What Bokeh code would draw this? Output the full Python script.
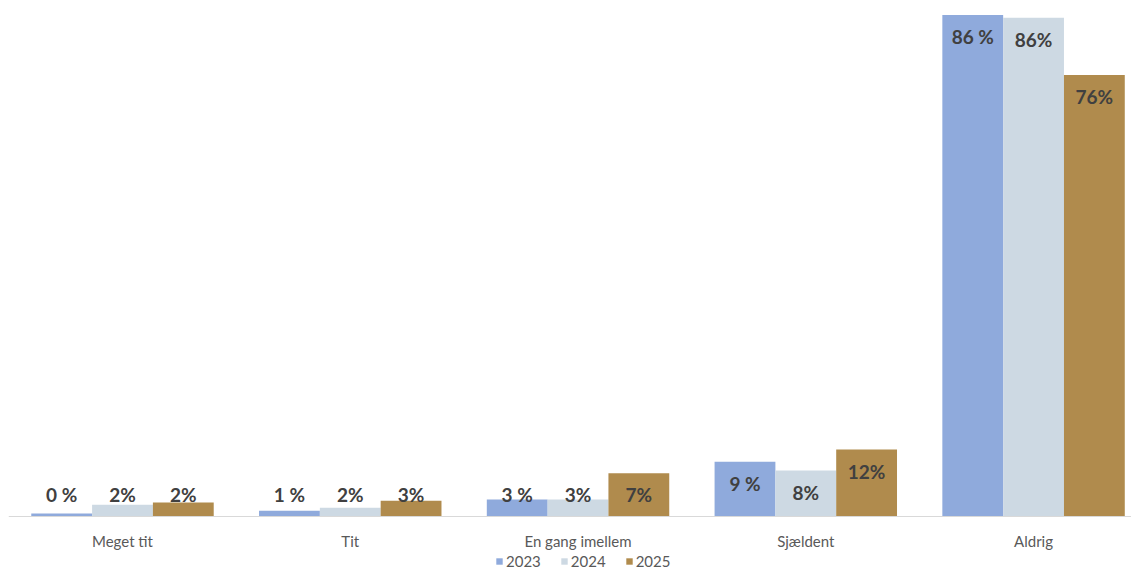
import numpy as np
from bokeh.plotting import figure
from bokeh.models import ColumnDataSource, Range1d, FixedTicker, Legend, LegendItem
from bokeh.core.properties import value
from bokeh.embed import file_html
from bokeh.resources import INLINE

categories = ["Meget tit", "Tit", "En gang imellem", "Sjældent", "Aldrig"]
series = ["2023", "2024", "2025"]
v2023 = [0.5, 1.0, 2.9, 9.4, 86.0]
v2024 = [2.0, 1.5, 2.9, 7.9, 85.5]
v2025 = [2.4, 2.7, 7.4, 11.5, 75.7]
l2023 = ["0 %", "1 %", "3 %", "9 %", "86 %"]
l2024 = ["2%", "2%", "3%", "8%", "86%"]
l2025 = ["2%", "3%", "7%", "12%", "76%"]
colors = ["#8FAADC", "#CDD9E3", "#B08B4D"]

FONT = "Lato"
p = figure(width=1131, height=569, output_backend="svg", toolbar_location=None,
           x_range=Range1d(-0.5005, 4.430), y_range=Range1d(-9.088, 87.1),
           min_border_left=8, min_border_right=0, min_border_top=8, min_border_bottom=0)
p.outline_line_color = None
p.grid.visible = False
p.yaxis.visible = False

bw = 0.267
offsets = [-bw, 0.0, bw]
renderers = []
for vals, labs, col, off in zip([v2023, v2024, v2025], [l2023, l2024, l2025], colors, offsets):
    x = np.arange(len(categories)) + off
    src = ColumnDataSource(dict(x=x, top=vals, ly=np.maximum(vals, 7.55), lab=labs))
    r = p.vbar(x="x", top="top", width=bw, source=src, fill_color=col, line_color=None)
    renderers.append(r)
    p.text(x="x", y="ly", text="lab", source=src, text_align="center", text_baseline="middle",
           y_offset=22, text_font=value(FONT), text_font_style="bold", text_font_size="19px",
           text_color="#404040")

ax = p.xaxis[0]
ax.fixed_location = 0
ax.ticker = FixedTicker(ticks=list(range(len(categories))))
ax.major_label_overrides = {i: c for i, c in enumerate(categories)}
ax.axis_line_color = "#D9D9D9"
ax.axis_line_width = 1
ax.major_tick_line_color = None
ax.minor_tick_line_color = None
ax.major_label_standoff = 10
ax.major_label_text_font = FONT
ax.major_label_text_font_size = "15px"
ax.major_label_text_color = "#595959"

legend = Legend(items=[LegendItem(label=s, renderers=[r]) for s, r in zip(series, renderers)],
                orientation="horizontal", location=(487, -1), glyph_width=8, glyph_height=8,
                label_text_font=FONT, label_text_font_size="15px", label_text_color="#595959",
                padding=0, margin=0, spacing=19, label_standoff=3, label_height=14,
                border_line_color=None, background_fill_alpha=0)
p.add_layout(legend, "center")

open("out.html", "w").write(file_html(p, INLINE))
